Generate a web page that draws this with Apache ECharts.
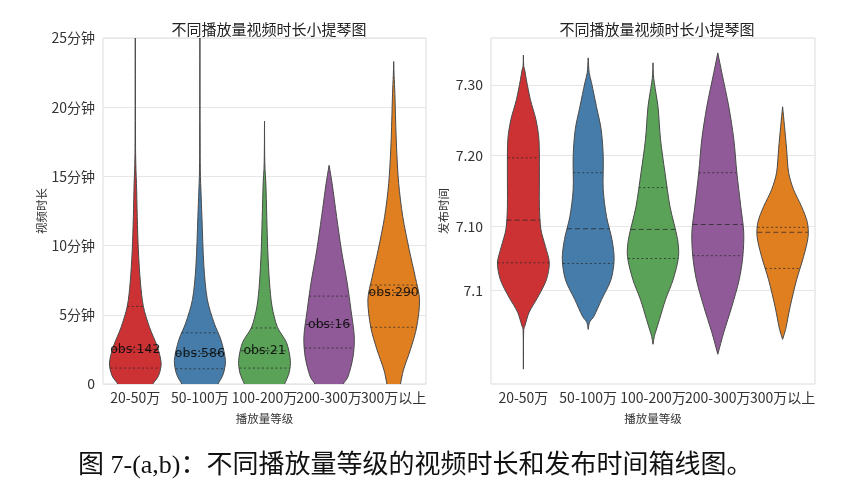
<!DOCTYPE html>
<html>
<head>
<meta charset="utf-8">
<script src="https://cdn.jsdelivr.net/npm/echarts@6/dist/echarts.min.js"></script>
<style>html,body{margin:0;padding:0;background:#fff;}#main{width:861px;height:487px;}</style>
</head>
<body>
<div id="main"></div>
<script>
// ---------- data ----------
const categories = ['20-50万', '50-100万', '100-200万', '200-300万', '300万以上'];
const obsCounts = [142, 586, 21, 16, 290];

// Left panel: video duration (minutes). Violin profiles [value, half-width as fraction of category band]
const dur_20_50   = [[-1,0.16],[0,0.27],[0.6,0.36],[1.5,0.40],[2.7,0.34],[4.1,0.22],[5.6,0.125],[7.3,0.08],[9.7,0.047],[12.1,0.03],[14.5,0.018],[15.5,0.01],[17,0.004],[25.5,0]];
const dur_50_100  = [[-1,0.17],[0,0.28],[0.7,0.36],[1.7,0.395],[3.2,0.325],[4.4,0.22],[6.1,0.115],[8.5,0.062],[12.1,0.031],[14,0.016],[15,0.008],[17,0.004],[25.5,0]];
const dur_100_200 = [[-1,0.2],[0,0.31],[0.8,0.38],[1.7,0.40],[3.0,0.34],[4.1,0.2],[5.6,0.117],[7.3,0.078],[9.7,0.05],[12.1,0.035],[14.6,0.02],[15.5,0.008],[16.5,0.003],[19,0]];
const dur_200_300 = [[-1,0.14],[0,0.22],[0.5,0.29],[1.95,0.37],[3.4,0.39],[5.3,0.34],[7.3,0.28],[9.7,0.19],[12.1,0.116],[14.5,0.046],[15.8,0]];
const dur_300plus = [[-1,0.06],[0,0.105],[1.0,0.15],[2.5,0.26],[4.1,0.355],[6.1,0.40],[7.7,0.335],[9.7,0.24],[12.1,0.14],[14.5,0.077],[17,0.045],[19,0.03],[21,0.018],[22.3,0.006],[23.3,0]];
const durQ1 = [1.15, 1.1, 1.15, 2.6, 4.1];
const durMedian = [2.5, 2.2, 2.4, 4.3, 6.6];
const durQ3 = [5.6, 3.7, 4.05, 6.35, 7.15];
const durTickLabels = ['0', '5分钟', '10分钟', '15分钟', '20分钟', '25分钟'];

// Right panel: publish date (day of July). Violin profiles
const pub_20_50   = [[-10.1,0],[-4.5,0.005],[-4,0.023],[-2.1,0.088],[0.2,0.232],[2.5,0.355],[4.9,0.40],[7.2,0.34],[9.6,0.27],[12.8,0.247],[17.6,0.247],[22.3,0.24],[25.1,0.193],[27.9,0.108],[30.7,0.046],[32.1,0.02],[32.6,0.005],[34.2,0]];
const pub_50_100  = [[-4.5,0],[-3.5,0.02],[-2.7,0.085],[-0.3,0.206],[2.5,0.351],[5.4,0.40],[8.2,0.366],[11.4,0.283],[15.2,0.232],[19.9,0.232],[23.7,0.2],[26.9,0.128],[30.3,0.051],[31.7,0.015],[33.8,0]];
const pub_100_200 = [[-6.6,0],[-5.5,0.02],[-4.9,0.039],[-3.1,0.1],[-0.3,0.193],[2.5,0.31],[5.8,0.394],[8.2,0.379],[12.8,0.263],[17.6,0.185],[22.3,0.116],[26.9,0.077],[30.3,0.02],[31.5,0.005],[33.1,0]];
const pub_200_300 = [[-8.0,0],[-4.9,0.093],[-1.3,0.216],[2.5,0.33],[5.8,0.386],[9.2,0.40],[12.8,0.355],[17.6,0.294],[22.3,0.247],[26.9,0.17],[31.7,0.062],[34.5,0]];
const pub_300plus = [[-5.9,0],[-4.5,0.046],[-1.3,0.116],[2.5,0.216],[5.8,0.325],[8.6,0.394],[10.6,0.382],[12.8,0.294],[15.2,0.17],[17.6,0.093],[20.9,0.062],[24.1,0.03],[26.9,0]];
const pubQ1 = [4.9, 4.8, 5.5, 5.9, 4.1];
const pubMedian = [10.9, 9.7, 9.6, 10.3, 9.2];
const pubQ3 = [19.7, 17.6, 15.5, 17.6, 9.9];
const pubTickValues = [1, 10, 20, 30];
const pubTickLabels = ['7.1', '7.10', '7.20', '7.30'];

const colors = ['#cc3134', '#467ca9', '#59a257', '#905998', '#df7f20'];
const durProfiles = [dur_20_50, dur_50_100, dur_100_200, dur_200_300, dur_300plus];
const pubProfiles = [pub_20_50, pub_50_100, pub_100_200, pub_200_300, pub_300plus];

// ---------- rendering ----------
function interpW(prof, v) {
  for (let k = 0; k < prof.length - 1; k++) {
    const a = prof[k], b = prof[k + 1];
    if (v >= a[0] && v <= b[0]) return a[1] + (b[1] - a[1]) * (v - a[0]) / (b[0] - a[0]);
  }
  return 0;
}

function makeRender(profiles, q1, med, q3, obs) {
  return function (params, api) {
    const i = params.dataIndex;
    const prof = profiles[i];
    const band = api.size([1, 0])[0];
    const cx = api.coord([i, 0])[0];
    const pts = [];
    for (let k = 0; k < prof.length; k++) {
      const y = api.coord([i, prof[k][0]])[1];
      pts.push([cx + prof[k][1] * band, y]);
    }
    for (let k = prof.length - 1; k >= 0; k--) {
      const y = api.coord([i, prof[k][0]])[1];
      pts.push([cx - prof[k][1] * band, y]);
    }
    const children = [{
      type: 'polygon',
      shape: { points: pts, smooth: 0.3 },
      style: { fill: colors[i], stroke: '#4a4a4a', lineWidth: 1 }
    }];
    const qs = [[q1[i], [2, 2.5]], [med[i], [5, 3]], [q3[i], [2, 2.5]]];
    qs.forEach(function (q) {
      const hw = interpW(prof, q[0]) * band;
      const y = api.coord([i, q[0]])[1];
      children.push({
        type: 'line',
        shape: { x1: cx - hw, y1: y, x2: cx + hw, y2: y },
        style: { stroke: 'rgba(40,40,40,0.75)', lineWidth: 1, lineDash: q[1] }
      });
    });
    if (obs) {
      const y = api.coord([i, med[i]])[1];
      children.push({
        type: 'text',
        style: {
          text: 'obs:' + obs[i], x: cx, y: y,
          align: 'center', verticalAlign: 'middle',
          fill: 'rgba(10,10,10,0.9)', font: '12.5px "DejaVu Sans", sans-serif'
        }
      });
    }
    return { type: 'group', children: children };
  };
}

const chart = echarts.init(document.getElementById('main'), null, { renderer: 'canvas' });
const axisLabelStyle = { color: '#333', fontSize: 14, fontFamily: 'Noto Sans CJK SC' };
const nameStyle = { color: '#333', fontSize: 11.5, fontFamily: 'Noto Sans CJK SC' };

const option = {
  backgroundColor: '#fff',
  animation: false,
  title: [
    { text: '不同播放量视频时长小提琴图', left: 264, top: 17, textAlign: 'center',
      textStyle: { fontSize: 15, fontWeight: 'normal', color: '#222', fontFamily: 'Noto Sans CJK SC' } },
    { text: '不同播放量视频时长小提琴图', left: 652, top: 17, textAlign: 'center',
      textStyle: { fontSize: 15, fontWeight: 'normal', color: '#222', fontFamily: 'Noto Sans CJK SC' } },
    { text: '图 7-(a,b)：不同播放量等级的视频时长和发布时间箱线图。', left: 73, top: 448,
      textStyle: { fontSize: 26, fontWeight: 'normal', color: '#111', fontFamily: '"Liberation Serif", "Noto Sans CJK SC"' } }
  ],
  grid: [
    { left: 103, top: 38, width: 323, height: 346, show: true, borderColor: '#dcdcdc', borderWidth: 1, backgroundColor: '#fff' },
    { left: 491, top: 38, width: 324, height: 346, show: true, borderColor: '#dcdcdc', borderWidth: 1, backgroundColor: '#fff' }
  ],
  xAxis: [0, 1].map(function (g) {
    return {
      type: 'category', gridIndex: g, data: categories, boundaryGap: true,
      name: '播放量等级', nameLocation: 'middle', nameGap: 29, nameTextStyle: nameStyle,
      axisLine: { show: false }, axisTick: { show: false }, splitLine: { show: false },
      axisLabel: Object.assign({ margin: 7, interval: 0 }, axisLabelStyle)
    };
  }),
  yAxis: [
    {
      type: 'value', gridIndex: 0, min: 0, max: 25, interval: 5,
      name: '视频时长', nameLocation: 'middle', nameGap: 56, nameTextStyle: nameStyle,
      axisLine: { show: false }, axisTick: { show: false },
      splitLine: { show: true, lineStyle: { color: '#e6e6e6', width: 1 } },
      axisLabel: Object.assign({ margin: 8, formatter: function (v) { return durTickLabels[Math.round(v / 5)]; } }, axisLabelStyle)
    },
    {
      type: 'value', gridIndex: 1, min: -12.2, max: 36.6,
      name: '发布时间', nameLocation: 'middle', nameGap: 42, nameTextStyle: nameStyle,
      axisLine: { show: false },
      axisTick: { show: false, customValues: pubTickValues },
      splitLine: { show: true, lineStyle: { color: '#e6e6e6', width: 1 } },
      axisLabel: Object.assign({ margin: 8, customValues: pubTickValues,
        formatter: function (v) { const k = pubTickValues.indexOf(Math.round(v)); return k >= 0 ? pubTickLabels[k] : ''; } }, axisLabelStyle)
    }
  ],
  series: [
    {
      type: 'custom', xAxisIndex: 0, yAxisIndex: 0, clip: true,
      renderItem: makeRender(durProfiles, durQ1, durMedian, durQ3, obsCounts),
      data: categories.map(function (c, i) { return [i, durMedian[i]]; })
    },
    {
      type: 'custom', xAxisIndex: 1, yAxisIndex: 1, clip: true,
      renderItem: makeRender(pubProfiles, pubQ1, pubMedian, pubQ3, null),
      data: categories.map(function (c, i) { return [i, pubMedian[i]]; })
    }
  ]
};
chart.setOption(option);
</script>
</body>
</html>
